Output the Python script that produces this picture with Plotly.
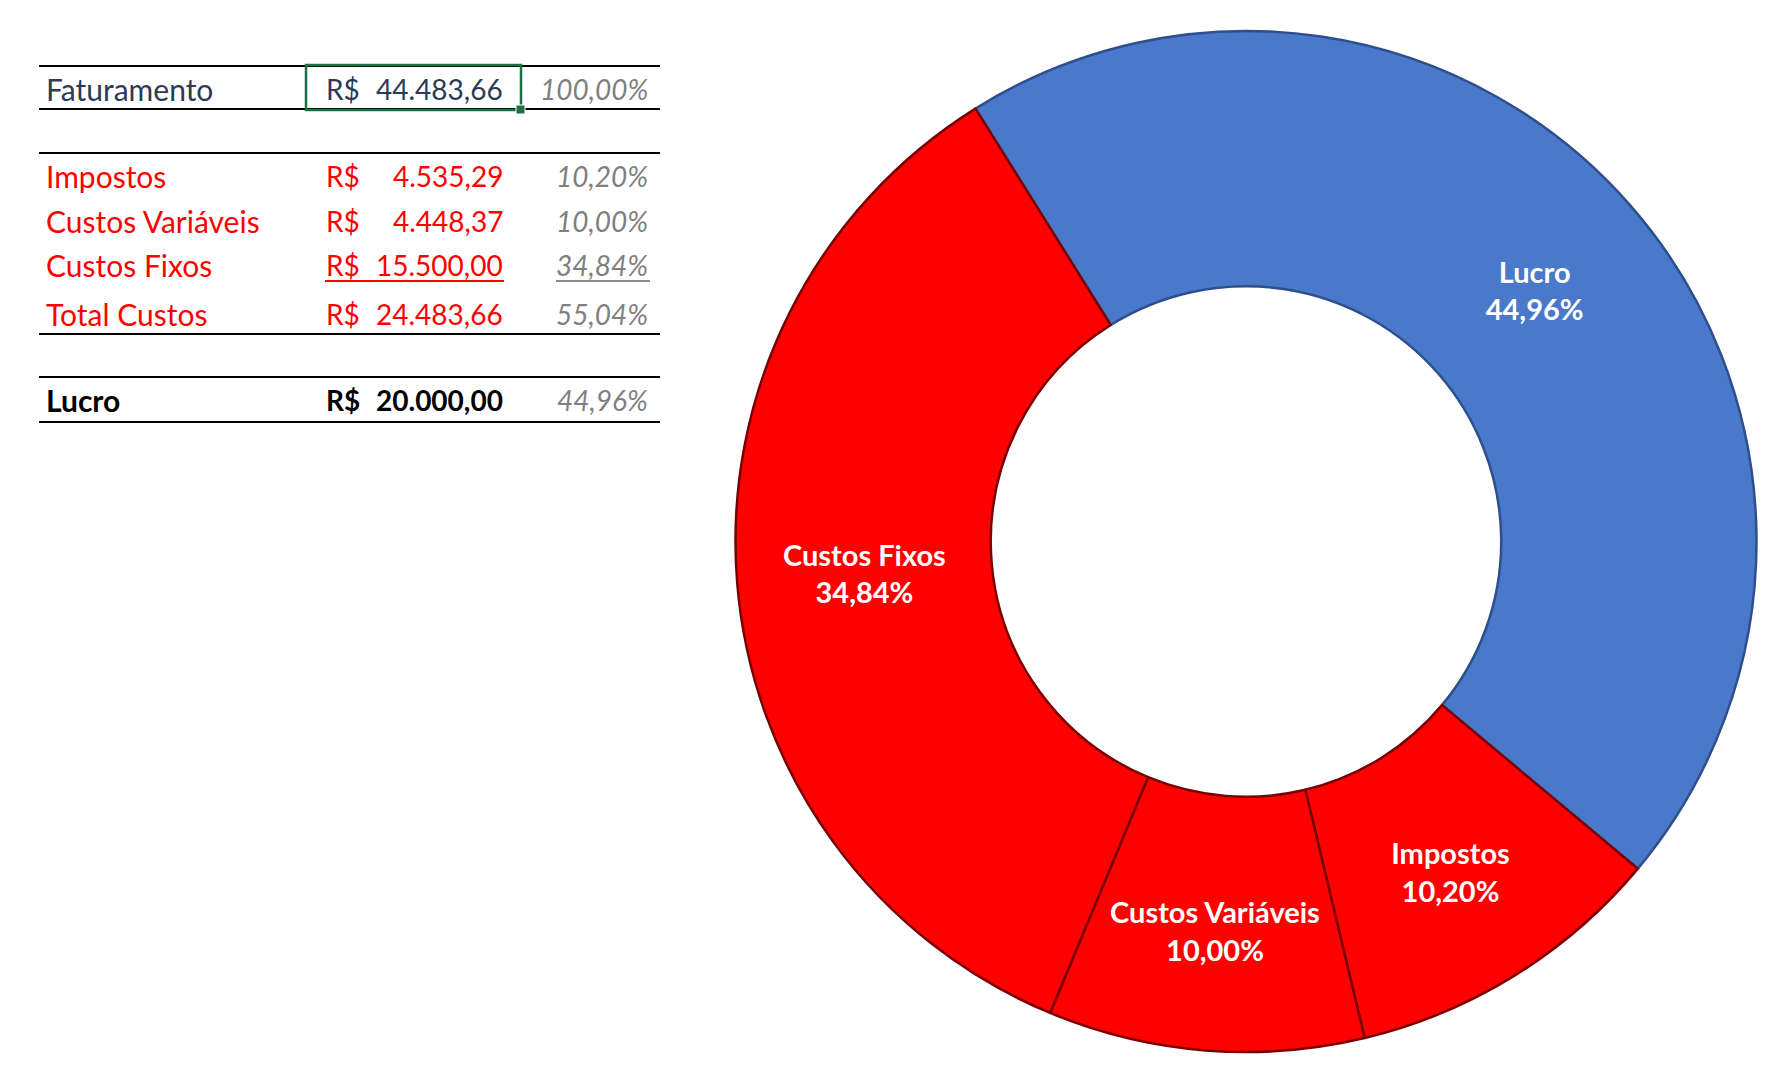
import plotly.graph_objects as go

W, H = 1783, 1080

# ---- data ----
slice_labels = ["Lucro", "Impostos", "Custos Variáveis", "Custos Fixos"]
slice_values = [20000.00, 4535.29, 4448.37, 15500.00]

faturamento_label = "Faturamento"
faturamento_value = 44483.66
cost_labels = ["Impostos", "Custos Variáveis", "Custos Fixos"]
cost_values = [4535.29, 4448.37, 15500.00]
total_label = "Total Custos"
total_value = 24483.66
lucro_label = "Lucro"
lucro_value = 20000.00

# ---- styles ----
RED = "#FE0000"
BLUE = "#4A78CA"
NAVY = "#2B3A57"
GRAY = "#7F7F7F"
slice_colors = [BLUE, RED, RED, RED]
slice_lines = ["#2E4F8C", "#7A0000", "#7A0000", "#7A0000"]
FONT = "Lato"
FS = 28
LABFS = 30
LFS = 29


def px(x):
    return x / W


def py(y):
    return 1 - y / H


def brl(v):
    s = f"{v:,.2f}"
    return s.replace(",", "X").replace(".", ",").replace("X", ".")


def pct(v):
    return f"{v / faturamento_value * 100:.2f}".replace(".", ",") + "%"


fig = go.Figure()

fig.add_trace(go.Pie(
    labels=slice_labels,
    values=slice_values,
    sort=False,
    direction="clockwise",
    rotation=-32,
    hole=0.5,
    marker=dict(colors=slice_colors, line=dict(color=slice_lines, width=2.5)),
    texttemplate="%{label}<br>%{percent:.2%}",
    textposition="inside",
    insidetextorientation="horizontal",
    textfont=dict(family=FONT, size=LFS, color="white", weight="bold"),
    domain=dict(x=[px(733), px(1759)], y=[py(1052), py(31)]),
    showlegend=False,
    hoverinfo="label+value+percent",
))

annotations = []
shapes = []


def row(y, label, value, color, pcolor=GRAY, bold=False):
    w = "bold" if bold else "normal"
    f = dict(family=FONT, size=FS, color=color, weight=w)
    fl = dict(family=FONT, size=LABFS, color=color, weight=w)
    annotations.append(dict(x=px(44), y=py(y), text=label, xanchor="left", yanchor="middle",
                            showarrow=False, font=fl, xref="paper", yref="paper"))
    annotations.append(dict(x=px(324), y=py(y), text="R$", xanchor="left", yanchor="middle",
                            showarrow=False, font=f, xref="paper", yref="paper"))
    annotations.append(dict(x=px(505), y=py(y), text=brl(value), xanchor="right", yanchor="middle",
                            showarrow=False, font=f, xref="paper", yref="paper"))
    annotations.append(dict(x=px(650), y=py(y), text="<i>" + pct(value) + "</i>", xanchor="right",
                            yanchor="middle", showarrow=False,
                            font=dict(family=FONT, size=FS, color=pcolor),
                            xref="paper", yref="paper"))


def hline(y, x0=39, x1=660, color="black", width=2):
    shapes.append(dict(type="line", xref="paper", yref="paper", x0=px(x0), x1=px(x1),
                       y0=py(y), y1=py(y), line=dict(color=color, width=width)))


row(89, faturamento_label, faturamento_value, NAVY)
cost_y = [176, 221, 265]
for lab, val, yy in zip(cost_labels, cost_values, cost_y):
    row(yy, lab, val, RED)
row(314, total_label, total_value, RED)
row(400, lucro_label, lucro_value, "black", bold=True)

for yy in [66, 109, 153, 334, 377, 422]:
    hline(yy)
hline(281, 325, 504, RED, 2)
hline(281, 556, 650, "#8C8C8C", 2)

# selection box
shapes.append(dict(type="rect", xref="paper", yref="paper", x0=px(306), x1=px(521),
                   y0=py(110), y1=py(65), line=dict(color="#1E7145", width=2.5)))
shapes.append(dict(type="rect", xref="paper", yref="paper", x0=px(516), x1=px(525),
                   y0=py(114), y1=py(105), line=dict(color="white", width=1),
                   fillcolor="#1E7145"))

fig.update_layout(
    width=W, height=H,
    margin=dict(l=0, r=0, t=0, b=0),
    paper_bgcolor="white", plot_bgcolor="white",
    separators=",.",
    uniformtext=dict(minsize=LFS, mode="show"),
    annotations=annotations,
    shapes=shapes,
    font=dict(family=FONT),
)

fig.write_html("out.html")
